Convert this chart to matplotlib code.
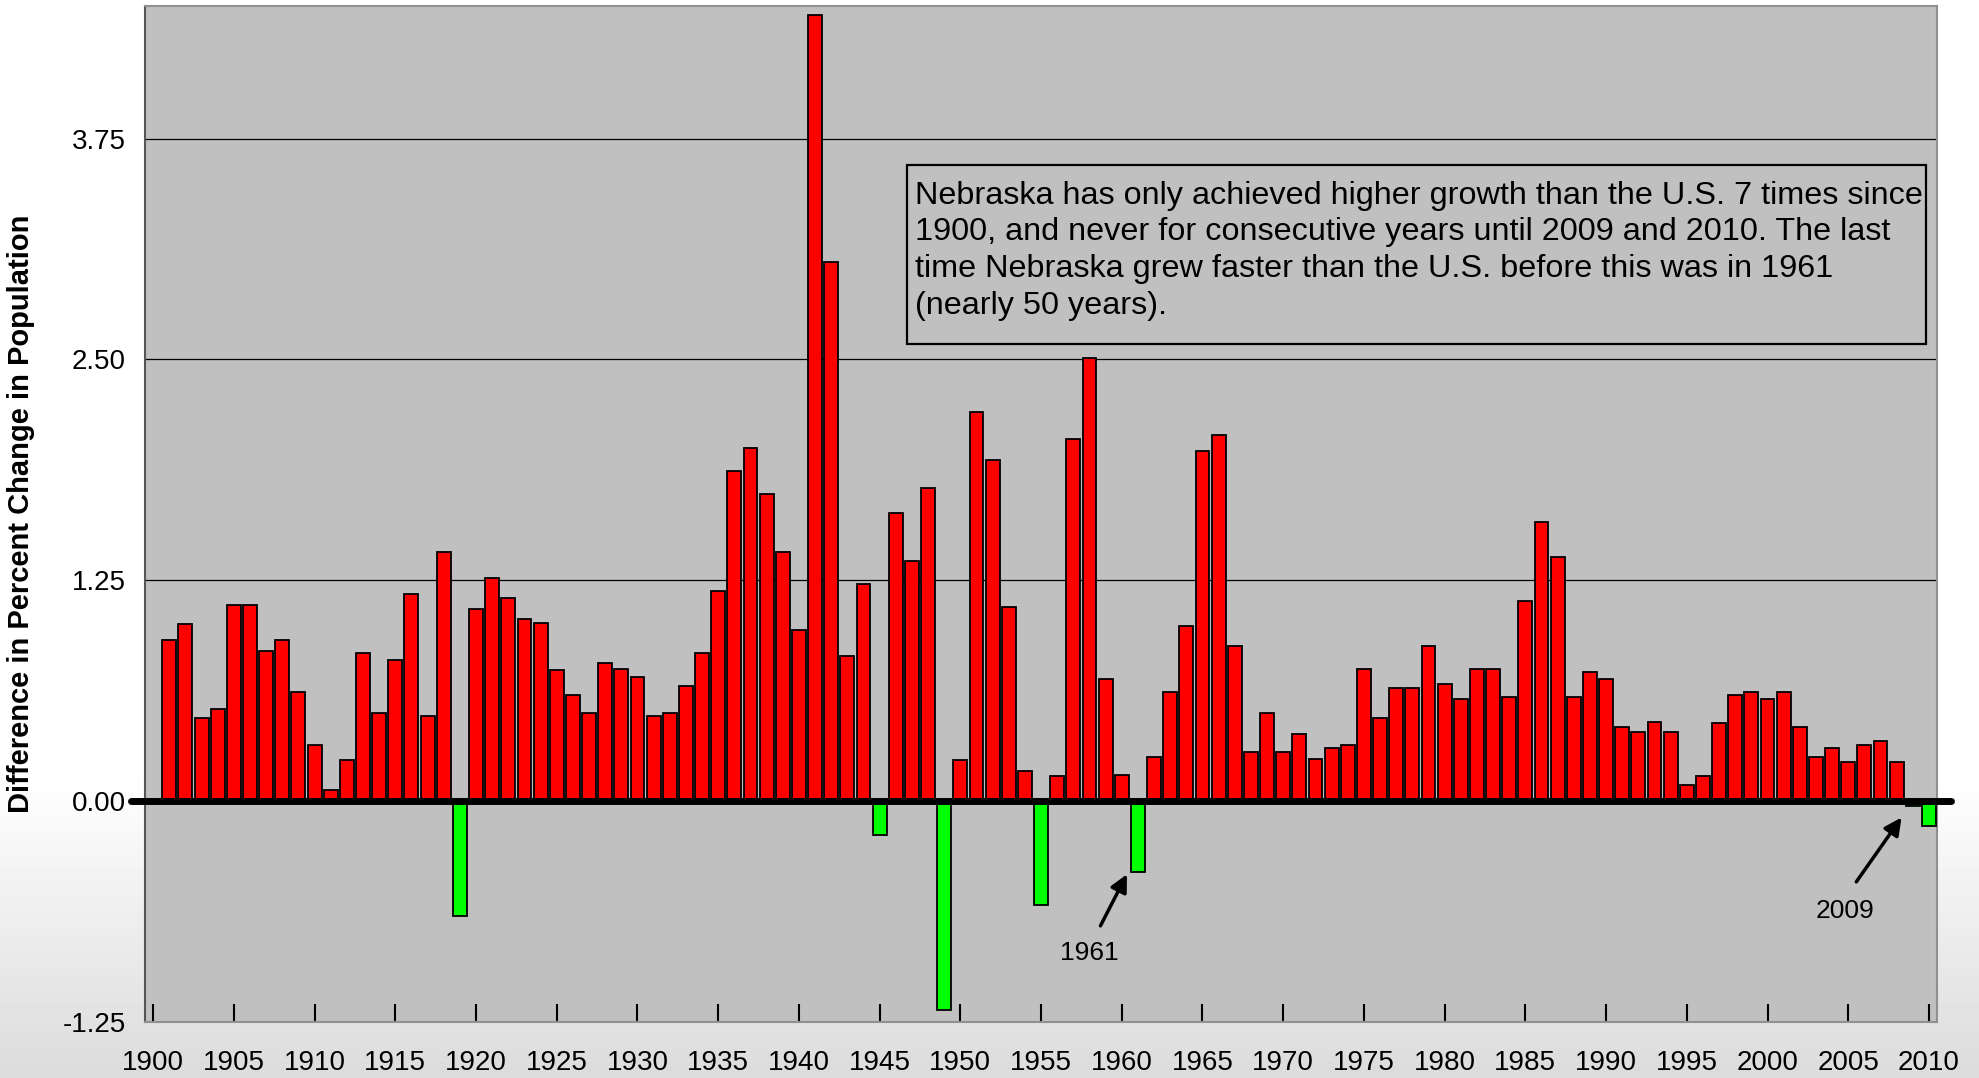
import matplotlib
matplotlib.use("Agg")
import matplotlib.pyplot as plt
from matplotlib.patches import Rectangle
import numpy as np

plt.rcParams['font.family'] = ['Liberation Sans', 'DejaVu Sans']

# difference in percent change in population (Nebraska - U.S.), 1901-2010
years = list(range(1901, 2011))
diff = [
    0.91, 1.00, 0.47, 0.52, 1.11, 1.11, 0.85, 0.91, 0.62, 0.32,
    0.06, 0.23, 0.84, 0.50, 0.80, 1.17, 0.48, 1.41, -0.65, 1.09,
    1.26, 1.15, 1.03, 1.01, 0.74, 0.60, 0.50, 0.78, 0.75, 0.70,
    0.48, 0.50, 0.65, 0.84, 1.19, 1.87, 2.00, 1.74, 1.41, 0.97,
    4.45, 3.05, 0.82, 1.23, -0.19, 1.63, 1.36, 1.77, -1.18, 0.23,
    2.20, 1.93, 1.10, 0.17, -0.59, 0.14, 2.05, 2.51, 0.69, 0.15,
    -0.40, 0.25, 0.62, 0.99, 1.98, 2.07, 0.88, 0.28, 0.50, 0.28,
    0.38, 0.24, 0.30, 0.32, 0.75, 0.47, 0.64, 0.64, 0.88, 0.66,
    0.58, 0.75, 0.75, 0.59, 1.13, 1.58, 1.38, 0.59, 0.73, 0.69,
    0.42, 0.39, 0.45, 0.39, 0.09, 0.14, 0.44, 0.60, 0.62, 0.58,
    0.62, 0.42, 0.25, 0.30, 0.22, 0.32, 0.34, 0.22, -0.03, -0.14,
]
tick_years = list(range(1900, 2011, 5))
y_ticks = [-1.25, 0.00, 1.25, 2.50, 3.75]

note = ("Nebraska has only achieved higher growth than the U.S. 7 times since\n"
        "1900, and never for consecutive years until 2009 and 2010. The last\n"
        "time Nebraska grew faster than the U.S. before this was in 1961\n"
        "(nearly 50 years).")

fig = plt.figure(figsize=(19.79, 10.78), dpi=100)

# white to light grey backdrop
bg = fig.add_axes([0, 0, 1, 1], zorder=-10)
grad = np.ones((200, 1))
t = np.linspace(0, 1, 200)
grad[:, 0] = np.where(t < 0.72, 1.0, 1.0 - (t - 0.72) / 0.28 * 0.14)
bg.imshow(grad, cmap='gray', vmin=0, vmax=1, aspect='auto', extent=[0, 1, 0, 1])
bg.axis('off')

ax = fig.add_axes([0.0733, 0.052, 0.9055, 0.9424])
ax.set_facecolor('#c0c0c0')

colors = ['#ff0000' if v >= 0 else '#00ff00' for v in diff]
ax.bar(years, diff, width=0.86, color=colors, edgecolor='black', linewidth=1.3, zorder=3)

ax.set_xlim(1899.5, 2010.5)
ax.set_ylim(-1.25, 4.5)
ax.set_yticks(y_ticks)
ax.set_yticklabels(['%.2f' % v for v in y_ticks], fontsize=20)
ax.set_xticks(tick_years)
ax.set_xticklabels([str(y) for y in tick_years], fontsize=20)
ax.tick_params(axis='x', direction='in', length=13, width=1.5, pad=20)
ax.tick_params(axis='y', length=0, pad=14)

for v in [1.25, 2.50, 3.75]:
    ax.axhline(v, color='black', linewidth=0.9, zorder=1)

# thick zero line running slightly past the plot
ax.plot([-0.008, 1.008], [0, 0], transform=ax.get_yaxis_transform(), color='black',
        linewidth=5, solid_capstyle='round', clip_on=False, zorder=4)

for side in ['top', 'right', 'bottom']:
    ax.spines[side].set_color('#909090')
    ax.spines[side].set_linewidth(1.5)
ax.spines['left'].set_color('#555555')
ax.spines['left'].set_linewidth(1.5)

ax.set_ylabel('Difference in Percent Change in Population', fontsize=21,
              fontweight='bold', labelpad=20)

# note box
ax.add_patch(Rectangle((0.425, 0.667), 0.569, 0.1765, transform=ax.transAxes,
                       facecolor='#c0c0c0', edgecolor='black', linewidth=1.6, zorder=5))
ax.text(0.4297, 0.828, note, transform=ax.transAxes, fontsize=23.3, va='top', ha='left',
        linespacing=1.29, zorder=6)

# arrows to 1961 and 2009
ax.annotate('', xy=(1960.4, -0.40), xytext=(1958.6, -0.72),
            arrowprops=dict(arrowstyle='-|>', color='black', lw=2.5, mutation_scale=26), zorder=6)
ax.text(1958.0, -0.86, '1961', fontsize=19, ha='center', va='center', zorder=6)
ax.annotate('', xy=(2008.4, -0.08), xytext=(2005.4, -0.47),
            arrowprops=dict(arrowstyle='-|>', color='black', lw=2.5, mutation_scale=26), zorder=6)
ax.text(2004.8, -0.62, '2009', fontsize=19, ha='center', va='center', zorder=6)

fig.savefig('out.png', dpi=100)
